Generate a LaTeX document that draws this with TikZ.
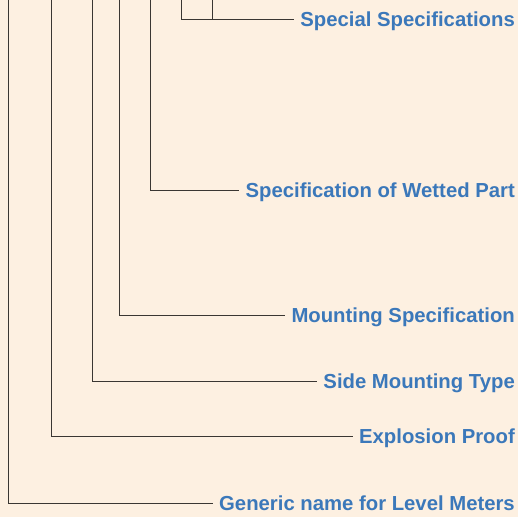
\documentclass[tikz,border=0pt]{standalone}
\usepackage{fontspec}
\setmainfont{Liberation Sans}
\usetikzlibrary{positioning, calc}
\definecolor{paper}{HTML}{FDF0E1}
\definecolor{labelblue}{HTML}{3B78BA}
\definecolor{wire}{HTML}{3A3632}
\tikzset{%
	code/.style={font=\bfseries\fontsize{20.3}{24}\selectfont, text=labelblue, anchor=east,%
		inner sep=0pt, text height=14.6pt, text depth=0pt},
	connector/.style={draw=wire, line width=1pt},
	lead/.style={connector, shorten >=6pt}
}

\begin{document}
\begin{tikzpicture}[x=1pt, y=-1pt]
	\fill [paper] (0,0) rectangle (518,516);
	%labels
	\node [code] (special)   at (515,19)  {Special Specifications};
	\node [code] (wetted)    at (515,190) {Specification of Wetted Part};
	\node [code] (mounting)  at (515,315) {Mounting Specification};
	\node [code] (side)      at (515,381) {Side Mounting Type};
	\node [code] (explosion) at (515,436) {Explosion Proof};
	\node [code] (generic)   at (515,503) {Generic name for Level Meters};
	%code positions
	\coordinate (g) at (8,0);
	\coordinate (e) at (51,0);
	\coordinate (t) at (92,0);
	\coordinate (m) at (119,0);
	\coordinate (w) at (150,0);
	\coordinate (s) at (181,0);
	\coordinate (x) at (212,0);
	%leads
	\draw [lead] (g) |- (generic);
	\draw [lead] (e) |- (explosion);
	\draw [lead] (t) |- (side);
	\draw [lead] (m) |- (mounting);
	\draw [lead] (w) |- (wetted);
	\draw [lead] (s) |- (special);
	\draw [connector] (x) -- (x|-special);
\end{tikzpicture}
\end{document}
